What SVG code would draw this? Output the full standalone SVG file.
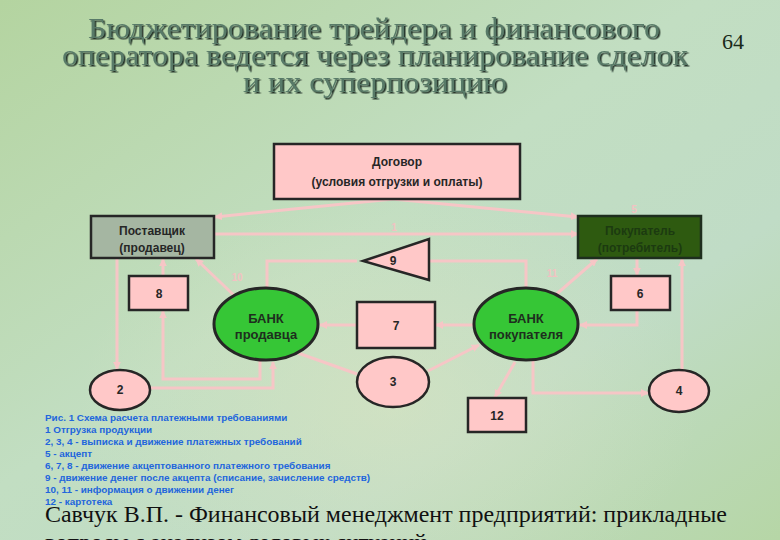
<svg xmlns="http://www.w3.org/2000/svg" width="780" height="540" viewBox="0 0 780 540">
<defs>
<linearGradient id="bg" x1="0" y1="0" x2="1" y2="1">
<stop offset="0" stop-color="#b4d4a0"/>
<stop offset="0.45" stop-color="#c2dec2"/>
<stop offset="0.7" stop-color="#c0dcc6"/>
<stop offset="1" stop-color="#b6d6a6"/>
</linearGradient>
<radialGradient id="glow" cx="0.5" cy="0.75" r="0.4">
<stop offset="0" stop-color="#dfe6c0" stop-opacity="0.5"/>
<stop offset="1" stop-color="#dfe6c0" stop-opacity="0"/>
</radialGradient>
<filter id="sh" x="-5%" y="-20%" width="110%" height="150%">
<feDropShadow dx="1.5" dy="1.5" stdDeviation="0.4" flood-color="#1a2a20" flood-opacity="0.95"/>
</filter>
<marker id="arr" viewBox="0 0 10 10" refX="9" refY="5" markerWidth="8" markerHeight="8" markerUnits="userSpaceOnUse" orient="auto">
<path d="M0,0 L10,5 L0,10 z" fill="#f6c6c6"/>
</marker>
</defs>
<style>
.title{font-family:"Liberation Serif",serif;font-size:30px;text-anchor:middle;fill:#587a68;filter:url(#sh)}
.ln{fill:none;stroke:#f6c6c6;stroke-width:3}
.box{fill:#ffc8c8;stroke:#262626;stroke-width:2.5}
.bank{fill:#36c636;stroke:#262626;stroke-width:3}
.t{font-family:"Liberation Sans",sans-serif;font-weight:bold;font-size:12px;fill:#262626;text-anchor:middle}
.tb{font-family:"Liberation Sans",sans-serif;font-weight:bold;font-size:13px;fill:#1e2e1e;text-anchor:middle}
.lbl{font-family:"Liberation Sans",sans-serif;font-weight:bold;font-size:10px;fill:#f2c2c2;text-anchor:middle}
.cap{font-family:"Liberation Sans",sans-serif;font-weight:bold;font-size:9.9px;fill:#2266dd}
.ref{font-family:"Liberation Serif",serif;font-size:23px;fill:#111}
</style>
<rect x="0" y="0" width="780" height="540" fill="url(#bg)"/>
<rect x="0" y="0" width="780" height="540" fill="url(#glow)"/>

<g id="title">
<text class="title" x="374" y="38" textLength="572" lengthAdjust="spacingAndGlyphs">Бюджетирование трейдера и финансового</text>
<text class="title" x="375" y="65" textLength="626" lengthAdjust="spacingAndGlyphs">оператора ведется через планирование сделок</text>
<text class="title" x="375" y="92" textLength="264" lengthAdjust="spacingAndGlyphs">и их суперпозицию</text>
<text x="733" y="49" font-family="Liberation Serif, serif" font-size="22" fill="#1a2a1a" text-anchor="middle">64</text>
</g>

<g id="connectors">
<path class="ln" d="M393,199 L215,217" marker-end="url(#arr)"/>
<path class="ln" d="M393,199 L578,217" marker-end="url(#arr)"/>
<path class="ln" d="M214,234 L578,234" marker-end="url(#arr)"/>
<path class="ln" d="M526,288 L526,261 L429,261"/>
<path class="ln" d="M357,261 L267,261 L267,288"/>
<path class="ln" d="M242,303 L196,259" marker-end="url(#arr)"/>
<path class="ln" d="M552,298 L597,259" marker-end="url(#arr)"/>
<path class="ln" d="M163,276 L163,259" marker-end="url(#arr)"/>
<path class="ln" d="M260,361 L260,379 L163,379 L163,311" marker-end="url(#arr)"/>
<path class="ln" d="M117,258 L117,369" marker-end="url(#arr)"/>
<path class="ln" d="M150,388 L273,388 L273,362" marker-end="url(#arr)"/>
<path class="ln" d="M298,353 L357,374"/>
<path class="ln" d="M428,371 L479,345" marker-end="url(#arr)"/>
<path class="ln" d="M474,325 L436,325" marker-end="url(#arr)"/>
<path class="ln" d="M357,325 L320,325" marker-end="url(#arr)"/>
<path class="ln" d="M637,258 L637,275" marker-end="url(#arr)"/>
<path class="ln" d="M637,310 L637,325 L580,325" marker-end="url(#arr)"/>
<path class="ln" d="M533,361 L533,393 L648,393" marker-end="url(#arr)"/>
<path class="ln" d="M682,370 L682,259" marker-end="url(#arr)"/>
<path class="ln" d="M515,362 L495,397" marker-end="url(#arr)"/>
<text class="lbl" x="394" y="231">1</text>
<text class="lbl" x="634" y="213">5</text>
<text class="lbl" x="237" y="281">10</text>
<text class="lbl" x="552" y="277">11</text>
</g>

<g id="dogovor">
<rect class="box" x="274" y="144" width="246" height="55"/>
<text class="t" x="397" y="166">Договор</text>
<text class="t" x="397" y="186">(условия отгрузки и оплаты)</text>
</g>
<g id="postavshik">
<rect x="91" y="216" width="123" height="42" fill="#a5b6a2" stroke="#262626" stroke-width="2.5"/>
<text class="t" x="152" y="235">Поставщик</text>
<text class="t" x="152" y="252">(продавец)</text>
</g>
<g id="pokupatel">
<rect x="578" y="216" width="123" height="42" fill="#2e5a10" stroke="#1e2e1e" stroke-width="2.5"/>
<text class="t" x="640" y="235" style="fill:#1c3a10">Покупатель</text>
<text class="t" x="640" y="252" style="fill:#1c3a10">(потребитель)</text>
</g>
<g id="n9">
<polygon points="363,261 429,239 429,280" fill="#ffc8c8" stroke="#262626" stroke-width="2.5"/>
<text class="t" x="393" y="265">9</text>
</g>
<g id="n8">
<rect class="box" x="129" y="276" width="59" height="34"/>
<text class="t" x="159" y="298">8</text>
</g>
<g id="n6">
<rect class="box" x="611" y="276" width="59" height="34"/>
<text class="t" x="640" y="298">6</text>
</g>
<g id="n7">
<rect class="box" x="357" y="302" width="78" height="46"/>
<text class="t" x="396" y="330">7</text>
</g>
<g id="n12">
<rect class="box" x="468" y="398" width="58" height="34"/>
<text class="t" x="497" y="420">12</text>
</g>
<g id="bank_seller">
<ellipse class="bank" cx="266" cy="324" rx="52" ry="36"/>
<text class="tb" x="266" y="323">БАНК</text>
<text class="tb" x="266" y="339">продавца</text>
</g>
<g id="bank_buyer">
<ellipse class="bank" cx="526" cy="324" rx="52" ry="36"/>
<text class="tb" x="526" y="323">БАНК</text>
<text class="tb" x="526" y="339">покупателя</text>
</g>
<g id="n3">
<ellipse class="box" cx="393" cy="382" rx="36" ry="25"/>
<text class="t" x="393" y="386">3</text>
</g>
<g id="n2">
<ellipse class="box" cx="120" cy="390" rx="30" ry="20"/>
<text class="t" x="120" y="394">2</text>
</g>
<g id="n4">
<ellipse class="box" cx="679" cy="391" rx="30" ry="21"/>
<text class="t" x="679" y="395">4</text>
</g>

<g id="caption">
<text class="cap" x="45" y="421">Рис. 1 Схема расчета платежными требованиями</text>
<text class="cap" x="45" y="433">1 Отгрузка продукции</text>
<text class="cap" x="45" y="445">2, 3, 4 - выписка и движение платежных требований</text>
<text class="cap" x="45" y="457">5 - акцепт</text>
<text class="cap" x="45" y="469">6, 7, 8 - движение акцептованного платежного требования</text>
<text class="cap" x="45" y="481">9 - движение денег после акцепта (списание, зачисление средств)</text>
<text class="cap" x="45" y="493">10, 11 - информация о движении денег</text>
<text class="cap" x="45" y="505">12 - картотека</text>
</g>
<g id="reference">
<text class="ref" x="45" y="522" textLength="682" lengthAdjust="spacingAndGlyphs">Савчук В.П. - Финансовый менеджмент предприятий: прикладные</text>
<text class="ref" x="45" y="550">вопросы с анализом деловых ситуаций</text>
</g>
</svg>
